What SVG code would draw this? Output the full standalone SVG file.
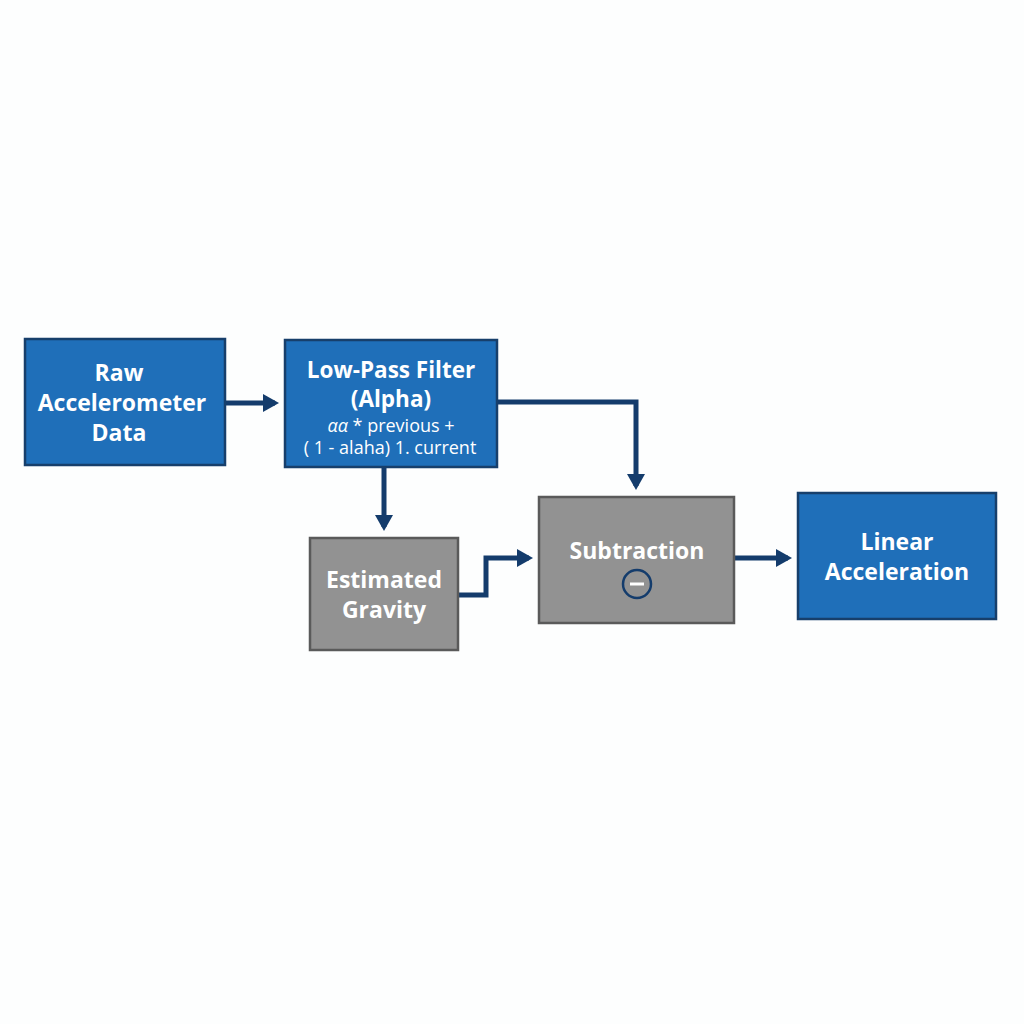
<svg xmlns="http://www.w3.org/2000/svg" width="1024" height="1024" viewBox="0 0 1024 1024">
<defs>
<style>
.blue{fill:#1f6fb9;stroke:#173f6b;stroke-width:2.5}
.gray{fill:#929292;stroke:#5a5a5a;stroke-width:2.5}
.t{font-family:"Open Sans","Liberation Sans",sans-serif;font-weight:700;fill:#ffffff;text-anchor:middle}
.s{font-family:"Open Sans","Liberation Sans",sans-serif;font-weight:400;fill:#ffffff;text-anchor:middle}
.c{fill:none;stroke:#143c6c;stroke-width:5;stroke-linejoin:miter}
</style>
<marker id="ah" markerWidth="3.2" markerHeight="3.6" refX="2.4" refY="1.8" orient="auto" markerUnits="strokeWidth">
<path d="M0,0 L3.2,1.8 L0,3.6 Z" fill="#143c6c"/>
</marker>
</defs>
<rect width="1024" height="1024" fill="#fdfefe"/>
<g id="connectors">
<path class="c" d="M225,403 L275,403" marker-end="url(#ah)"/>
<path class="c" d="M497,402 L636,402 L636,486" marker-end="url(#ah)"/>
<path class="c" d="M384,467 L384,527" marker-end="url(#ah)"/>
<path class="c" d="M458,595 L486,595 L486,558 L529,558" marker-end="url(#ah)"/>
<path class="c" d="M734,558 L788,558" marker-end="url(#ah)"/>
</g>
<g id="raw">
<rect class="blue" x="25" y="339" width="200" height="126"/>
<text class="t" font-size="23" x="119" y="381">Raw</text>
<text class="t" font-size="23" x="122" y="411">Accelerometer</text>
<text class="t" font-size="23" x="119" y="441">Data</text>
</g>
<g id="lpf">
<rect class="blue" x="285" y="340" width="212" height="127"/>
<text class="t" font-size="22.5" x="391" y="378">Low-Pass Filter</text>
<text class="t" font-size="22.5" x="391" y="407">(Alpha)</text>
<text class="s" font-size="18" x="391" y="432"><tspan font-style="italic">αα</tspan> * previous +</text>
<text class="s" font-size="18" x="390" y="454">( 1 - alaha) 1. current</text>
</g>
<g id="gravity">
<rect class="gray" x="310" y="538" width="148" height="112"/>
<text class="t" font-size="23" x="384" y="588">Estimated</text>
<text class="t" font-size="23" x="384" y="618">Gravity</text>
</g>
<g id="subtraction">
<rect class="gray" x="539" y="497" width="195" height="126"/>
<text class="t" font-size="23" x="637" y="559">Subtraction</text>
<circle cx="637" cy="584" r="14" fill="none" stroke="#143c6c" stroke-width="2.5"/>
<line x1="630" y1="584" x2="644" y2="584" stroke="#ffffff" stroke-width="3"/>
</g>
<g id="linear">
<rect class="blue" x="798" y="493" width="198" height="126"/>
<text class="t" font-size="23" x="897" y="550">Linear</text>
<text class="t" font-size="23" x="897" y="580">Acceleration</text>
</g>
</svg>
